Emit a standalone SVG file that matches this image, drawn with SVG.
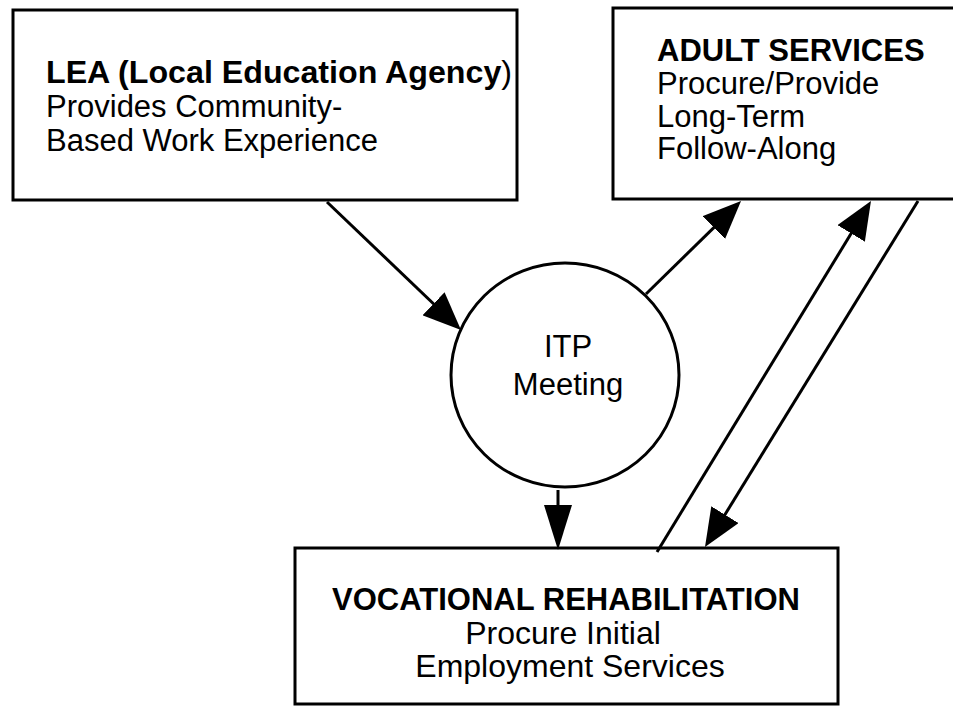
<svg xmlns="http://www.w3.org/2000/svg" width="953" height="706" viewBox="0 0 953 706">
  <style>
    .box { fill: #fff; stroke: #000; stroke-width: 3; }
    .link { fill: none; stroke: #000; stroke-width: 3; }
    text { font-family: "Liberation Sans", Arial, Helvetica, sans-serif; font-size: 31px; fill: #000; }
    .title { font-weight: bold; }
    .mid { text-anchor: middle; }
    .wide { font-size: 32px; }
  </style>
  <defs>
    <marker id="head" markerUnits="userSpaceOnUse" markerWidth="38" markerHeight="32" refX="30" refY="16" orient="auto">
      <path d="M0,0 L38,16 L0,32 Z" fill="#000"/>
    </marker>
    <marker id="head-narrow" markerUnits="userSpaceOnUse" markerWidth="45" markerHeight="28" refX="37" refY="14" orient="auto">
      <path d="M0,0 L45,14 L0,28 Z" fill="#000"/>
    </marker>
  </defs>

  <g id="lea">
    <rect class="box" x="13" y="10" width="504" height="190"/>
    <text x="46" y="83" class="title" textLength="466" lengthAdjust="spacingAndGlyphs">LEA (Local Education Agency<tspan font-weight="normal">)</tspan></text>
    <text x="46" y="117">Provides Community-</text>
    <text x="46" y="151">Based Work Experience</text>
  </g>

  <g id="adult-services">
    <rect class="box" x="613" y="8" width="360" height="191"/>
    <text x="657" y="61" class="title">ADULT SERVICES</text>
    <text x="657" y="94">Procure/Provide</text>
    <text x="657" y="127">Long-Term</text>
    <text x="657" y="159">Follow-Along</text>
  </g>

  <g id="itp-meeting">
    <ellipse class="box" cx="565" cy="375" rx="114" ry="112"/>
    <text x="568" y="357" class="mid">ITP</text>
    <text x="568" y="395" class="mid">Meeting</text>
  </g>

  <g id="vocational-rehabilitation">
    <rect class="box" x="295" y="548" width="543" height="156"/>
    <text x="566" y="610" class="title mid">VOCATIONAL REHABILITATION</text>
    <text x="563" y="644" class="mid wide">Procure Initial</text>
    <text x="570" y="677" class="mid wide">Employment Services</text>
  </g>

  <g id="connectors">
    <line class="link" x1="327" y1="202" x2="455.2" y2="324.5" marker-end="url(#head)"/>
    <line class="link" x1="646" y1="294" x2="735.3" y2="206.6" marker-end="url(#head)"/>
    <line class="link" x1="657" y1="552" x2="866.8" y2="207.8" marker-end="url(#head)"/>
    <line class="link" x1="918" y1="201" x2="709.2" y2="540.2" marker-end="url(#head)"/>
    <line class="link" x1="558" y1="490" x2="558" y2="542" marker-end="url(#head-narrow)"/>
  </g>
</svg>
